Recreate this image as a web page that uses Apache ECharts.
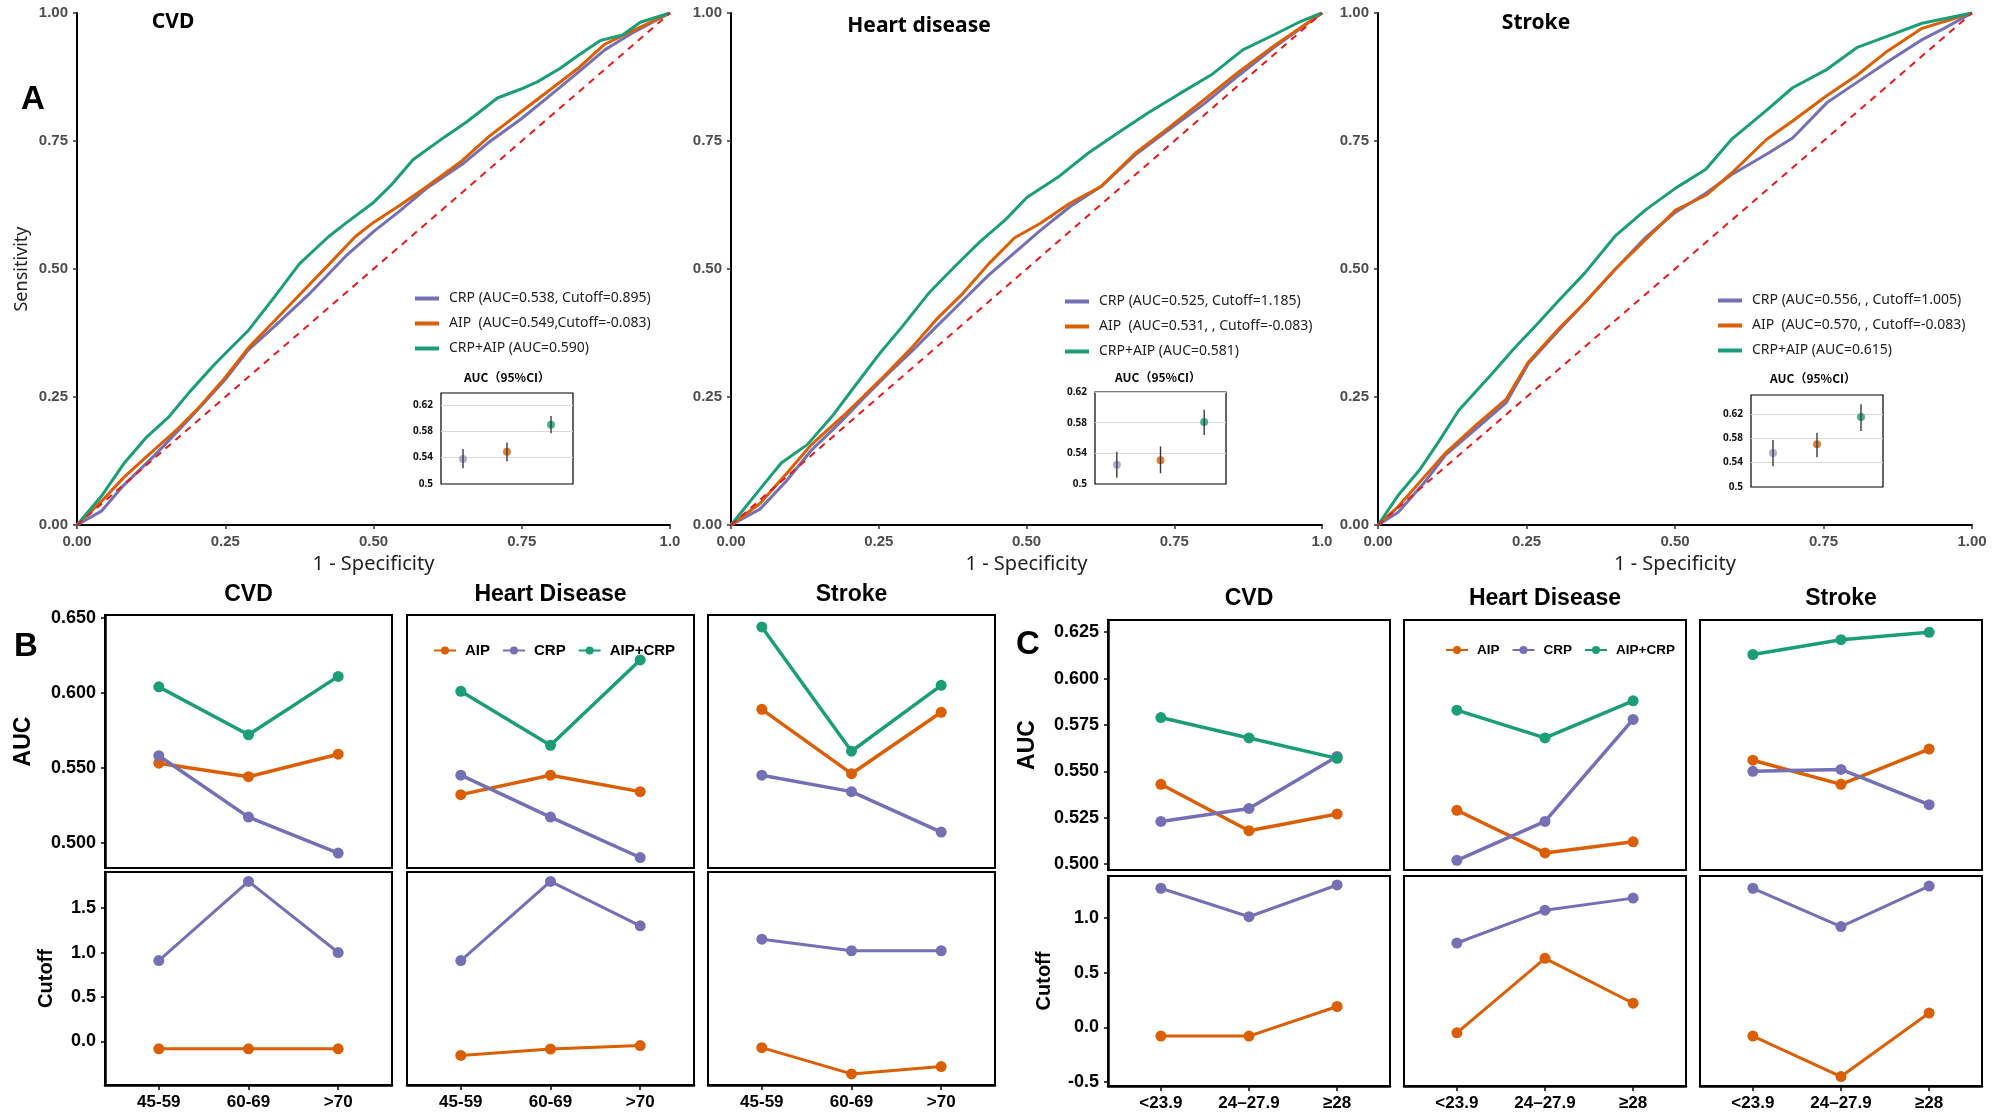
<!DOCTYPE html>
<html>
<head>
<meta charset="utf-8">
<script src="https://cdn.jsdelivr.net/npm/echarts@6/dist/echarts.min.js"></script>
<style>
html, body { margin: 0; padding: 0; background: #fff; }
#chart { width: 1996px; height: 1117px; }
</style>
</head>
<body>
<div id="chart"></div>
<script>
const PURPLE = '#7570b3', ORANGE = '#d95f02', GREEN = '#1b9e77', RED = '#e41a1c';

// ---- A: ROC curves, [1 - specificity, sensitivity]
const rocCvdCrp = [[0,0],[0.041,0.027],[0.079,0.078],[0.131,0.136],[0.19,0.208],[0.25,0.284],[0.289,0.342],[0.334,0.389],[0.394,0.454],[0.454,0.526],[0.5,0.573],[0.544,0.613],[0.589,0.657],[0.649,0.704],[0.694,0.747],[0.75,0.794],[0.8,0.841],[0.845,0.884],[0.89,0.928],[0.935,0.96],[1,1]];
const rocCvdAip = [[0,0],[0.041,0.046],[0.079,0.093],[0.116,0.132],[0.169,0.187],[0.206,0.23],[0.25,0.288],[0.289,0.346],[0.334,0.40],[0.379,0.454],[0.424,0.508],[0.469,0.563],[0.5,0.591],[0.544,0.624],[0.589,0.66],[0.649,0.711],[0.694,0.758],[0.75,0.808],[0.8,0.852],[0.845,0.892],[0.89,0.939],[0.935,0.964],[1,1]];
const rocCvdBoth = [[0,0],[0.041,0.056],[0.079,0.12],[0.116,0.17],[0.154,0.21],[0.19,0.26],[0.229,0.31],[0.25,0.335],[0.289,0.38],[0.334,0.447],[0.375,0.51],[0.424,0.563],[0.454,0.59],[0.5,0.63],[0.53,0.664],[0.567,0.714],[0.62,0.758],[0.657,0.787],[0.709,0.834],[0.75,0.852],[0.777,0.866],[0.815,0.892],[0.845,0.917],[0.882,0.946],[0.92,0.957],[0.95,0.982],[1,1]];

const rocHeartCrp = [[0,0],[0.049,0.031],[0.093,0.085],[0.136,0.146],[0.188,0.204],[0.224,0.247],[0.268,0.298],[0.304,0.337],[0.348,0.388],[0.392,0.438],[0.436,0.488],[0.48,0.532],[0.523,0.575],[0.574,0.622],[0.626,0.661],[0.684,0.723],[0.742,0.773],[0.801,0.823],[0.859,0.878],[0.918,0.932],[1,1]];
const rocHeartAip = [[0,0],[0.049,0.042],[0.093,0.099],[0.136,0.157],[0.188,0.211],[0.224,0.251],[0.268,0.301],[0.304,0.344],[0.348,0.402],[0.392,0.452],[0.436,0.51],[0.48,0.561],[0.523,0.589],[0.574,0.629],[0.626,0.661],[0.684,0.726],[0.742,0.777],[0.801,0.831],[0.859,0.885],[0.918,0.935],[1,1]];
const rocHeartBoth = [[0,0],[0.049,0.07],[0.085,0.121],[0.129,0.157],[0.173,0.215],[0.21,0.272],[0.253,0.337],[0.29,0.388],[0.334,0.452],[0.377,0.503],[0.421,0.553],[0.465,0.597],[0.501,0.64],[0.553,0.679],[0.604,0.726],[0.655,0.766],[0.706,0.805],[0.757,0.841],[0.815,0.881],[0.866,0.928],[0.918,0.957],[0.961,0.982],[1,1]];

const rocStrokeCrp = [[0,0],[0.034,0.025],[0.078,0.083],[0.114,0.137],[0.165,0.188],[0.216,0.239],[0.253,0.315],[0.304,0.38],[0.348,0.434],[0.399,0.499],[0.45,0.561],[0.501,0.611],[0.552,0.648],[0.595,0.684],[0.654,0.724],[0.698,0.756],[0.756,0.825],[0.807,0.865],[0.858,0.905],[0.916,0.948],[0.953,0.97],[1,1]];
const rocStrokeAip = [[0,0],[0.034,0.036],[0.078,0.094],[0.114,0.141],[0.165,0.195],[0.216,0.246],[0.253,0.318],[0.304,0.383],[0.348,0.434],[0.399,0.499],[0.45,0.557],[0.501,0.615],[0.552,0.644],[0.595,0.687],[0.654,0.753],[0.698,0.789],[0.756,0.839],[0.807,0.879],[0.858,0.926],[0.916,0.97],[1,1]];
const rocStrokeBoth = [[0,0],[0.034,0.058],[0.071,0.109],[0.1,0.159],[0.136,0.224],[0.187,0.289],[0.231,0.347],[0.267,0.391],[0.304,0.438],[0.348,0.492],[0.399,0.564],[0.45,0.615],[0.501,0.658],[0.552,0.695],[0.595,0.753],[0.654,0.81],[0.698,0.854],[0.756,0.89],[0.807,0.933],[0.858,0.955],[0.916,0.98],[1,1]];

const rocNamesCvd = ['CRP (AUC=0.538, Cutoff=0.895)', 'AIP  (AUC=0.549,Cutoff=-0.083)', 'CRP+AIP (AUC=0.590)'];
const rocNamesHeart = ['CRP (AUC=0.525, Cutoff=1.185)', 'AIP  (AUC=0.531, , Cutoff=-0.083)', 'CRP+AIP (AUC=0.581)'];
const rocNamesStroke = ['CRP (AUC=0.556, , Cutoff=1.005)', 'AIP  (AUC=0.570, , Cutoff=-0.083)', 'CRP+AIP (AUC=0.615)'];
const rocTitles = ['CVD', 'Heart disease', 'Stroke'];

// inset AUC (95%CI): CRP, AIP, CRP+AIP
const insetModels = ['CRP', 'AIP', 'CRP+AIP'];
const insetAucCvd = [0.538, 0.549, 0.590];
const insetLoCvd = [0.524, 0.534, 0.577];
const insetHiCvd = [0.553, 0.563, 0.603];
const insetAucHeart = [0.525, 0.531, 0.581];
const insetLoHeart = [0.508, 0.514, 0.564];
const insetHiHeart = [0.542, 0.549, 0.597];
const insetAucStroke = [0.556, 0.570, 0.615];
const insetLoStroke = [0.534, 0.549, 0.592];
const insetHiStroke = [0.577, 0.589, 0.636];
const insetTicks = [0.5, 0.54, 0.58, 0.62];
const insetGridLines = [0.54, 0.58, 0.62];

// ---- B: by age group, C: by BMI group (columns: CVD, Heart Disease, Stroke)
const facetTitles = ['CVD', 'Heart Disease', 'Stroke'];
const ageGroups = ['45-59', '60-69', '>70'];
const ageAucAip = [[0.553, 0.544, 0.559], [0.532, 0.545, 0.534], [0.589, 0.546, 0.587]];
const ageAucCrp = [[0.558, 0.517, 0.493], [0.545, 0.517, 0.490], [0.545, 0.534, 0.507]];
const ageAucBoth = [[0.604, 0.572, 0.611], [0.601, 0.565, 0.622], [0.644, 0.561, 0.605]];
const ageCutAip = [[-0.083, -0.083, -0.083], [-0.157, -0.086, -0.047], [-0.07, -0.365, -0.283]];
const ageCutCrp = [[0.91, 1.80, 1.00], [0.91, 1.80, 1.30], [1.15, 1.02, 1.02]];
const ageAucTicks = [0.5, 0.55, 0.6, 0.65];
const ageCutTicks = [0, 0.5, 1, 1.5];

const bmiGroups = ['<23.9', '24\u201327.9', '\u226528'];
const bmiAucAip = [[0.543, 0.518, 0.527], [0.529, 0.506, 0.512], [0.556, 0.543, 0.562]];
const bmiAucCrp = [[0.523, 0.530, 0.558], [0.502, 0.523, 0.578], [0.550, 0.551, 0.532]];
const bmiAucBoth = [[0.579, 0.568, 0.557], [0.583, 0.568, 0.588], [0.613, 0.621, 0.625]];
const bmiCutAip = [[-0.08, -0.08, 0.19], [-0.05, 0.63, 0.22], [-0.08, -0.45, 0.13]];
const bmiCutCrp = [[1.27, 1.01, 1.30], [0.77, 1.07, 1.18], [1.27, 0.92, 1.29]];
const bmiAucTicks = [0.5, 0.525, 0.55, 0.575, 0.6, 0.625];
const bmiCutTicks = [-0.5, 0, 0.5, 1];

const seriesNames = ['AIP', 'CRP', 'AIP+CRP'];

const grids = [], xAxes = [], yAxes = [], series = [], legends = [], graphics = [];
const SANS = 'Liberation Sans, Arial, sans-serif';
const NOTO = 'Noto Sans, sans-serif';

function text(x, y, str, font, extra) {
    graphics.push(Object.assign({
        type: 'text', x: x, y: y, silent: true,
        style: {text: str, font: font, fill: '#000', align: 'center', verticalAlign: 'middle'}
    }, extra || {}));
}

//A 面板：ROC 曲线
const rocPanels = [
    {left: 77, width: 593, curves: [rocCvdCrp, rocCvdAip, rocCvdBoth], names: rocNamesCvd, lastX: '1.0', yName: 'Sensitivity',
        title: [173, 22], legend: [410, 285], inset: {left: 441, top: 393, width: 132, height: 91, max: 0.638, title: [507, 377],
            auc: insetAucCvd, lo: insetLoCvd, hi: insetHiCvd}},
    {left: 731, width: 591, curves: [rocHeartCrp, rocHeartAip, rocHeartBoth], names: rocNamesHeart, lastX: '1.0', yName: '',
        title: [919, 26], legend: [1060, 288], inset: {left: 1095, top: 392, width: 131, height: 92, max: 0.62, title: [1158, 377],
            auc: insetAucHeart, lo: insetLoHeart, hi: insetHiHeart}},
    {left: 1378, width: 594, curves: [rocStrokeCrp, rocStrokeAip, rocStrokeBoth], names: rocNamesStroke, lastX: '1.00', yName: '',
        title: [1536, 23], legend: [1713, 287], inset: {left: 1751, top: 395, width: 132, height: 92, max: 0.651, title: [1813, 378],
            auc: insetAucStroke, lo: insetLoStroke, hi: insetHiStroke}}
];
const rocColors = [PURPLE, ORANGE, GREEN];
const insetColors = ['#9e9ac8', ORANGE, GREEN];
const rocLabel = {color: '#4d4d4d', fontWeight: 'bold', fontSize: 15, fontFamily: SANS};

rocPanels.forEach(function (p, n) {
    const gi = grids.length;
    grids.push({left: p.left, top: 13, width: p.width, height: 512});
    xAxes.push({
        gridIndex: gi, type: 'value', min: 0, max: 1, interval: 0.25,
        name: '1 - Specificity', nameLocation: 'middle', nameGap: 29,
        nameTextStyle: {fontSize: 20, color: '#222', fontFamily: NOTO},
        axisLine: {onZero: false, lineStyle: {color: '#000', width: 2}},
        axisTick: {length: 4, lineStyle: {color: '#333', width: 1.5}},
        axisLabel: Object.assign({margin: 9, formatter: function (v) { return v === 1 ? p.lastX : v.toFixed(2); }}, rocLabel),
        splitLine: {show: false}
    });
    yAxes.push({
        gridIndex: gi, type: 'value', min: 0, max: 1, interval: 0.25,
        name: p.yName, nameLocation: 'middle', nameGap: 46,
        nameTextStyle: {fontSize: 18, color: '#222', fontFamily: NOTO},
        axisLine: {show: true, onZero: false, lineStyle: {color: '#000', width: 2}},
        axisTick: {show: true, length: 4, lineStyle: {color: '#333', width: 1.5}},
        axisLabel: Object.assign({margin: 9, formatter: function (v) { return v.toFixed(2); }}, rocLabel),
        splitLine: {show: false}
    });
    p.curves.forEach(function (c, k) {
        series.push({
            type: 'line', name: p.names[k], xAxisIndex: gi, yAxisIndex: gi, data: c,
            symbol: 'none', color: rocColors[k], lineStyle: {width: 3, color: rocColors[k]}
        });
    });
    series.push({
        type: 'line', name: 'ref', xAxisIndex: gi, yAxisIndex: gi, data: [[0, 0], [1, 1]],
        symbol: 'none', lineStyle: {width: 2, color: RED, type: [7, 6]}
    });
    legends.push({
        data: p.names, orient: 'vertical', left: p.legend[0], top: p.legend[1],
        icon: 'rect', itemWidth: 24, itemHeight: 4, itemGap: 8,
        textStyle: {fontSize: 14, color: '#222', fontFamily: NOTO, lineHeight: 17, padding: [0, 0, 0, 5]}
    });
    text(p.title[0], p.title[1], rocTitles[n], 'bold 21px ' + NOTO);

    // 小图：AUC (95%CI)
    const q = p.inset;
    const ii = grids.length;
    grids.push({left: q.left, top: q.top, width: q.width, height: q.height, show: true,
        borderColor: '#000', borderWidth: 1.2, backgroundColor: '#fff', z: 5});
    xAxes.push({gridIndex: ii, type: 'category', data: insetModels, boundaryGap: true,
        axisLine: {show: false}, axisTick: {show: false}, axisLabel: {show: false}, z: 5});
    yAxes.push({gridIndex: ii, type: 'value', min: 0.5, max: q.max,
        axisLine: {show: false}, axisTick: {show: false}, splitLine: {show: false},
        axisLabel: {customValues: insetTicks, margin: 8, fontSize: 10, fontWeight: 'bold', color: '#111', fontFamily: NOTO,
            formatter: function (v) { return String(+v.toFixed(2)); }}, z: 5});
    series.push({
        type: 'scatter', name: 'inset', xAxisIndex: ii, yAxisIndex: ii, z: 6,
        data: q.auc.map(function (v, i) { return [i, v]; }), symbolSize: 8,
        itemStyle: {color: function (d) { return insetColors[d.dataIndex]; }},
        markLine: {silent: true, symbol: 'none', label: {show: false}, animation: false,
            lineStyle: {color: '#d9d9d9', width: 1, type: 'solid'},
            data: insetGridLines.map(function (v) { return {yAxis: v}; })}
    });
    series.push({
        type: 'custom', name: 'ci', xAxisIndex: ii, yAxisIndex: ii, z: 7,
        data: q.auc.map(function (v, i) { return [i, v, q.lo[i], q.hi[i]]; }),
        encode: {x: 0, y: [1, 2, 3]},
        renderItem: function (params, api) {
            const i = api.value(0);
            const a = api.coord([i, api.value(2)]);
            const b = api.coord([i, api.value(3)]);
            return {type: 'line', shape: {x1: a[0], y1: a[1], x2: b[0], y2: b[1]}, style: {stroke: '#3a3a3a', lineWidth: 1.4}};
        }
    });
    text(q.title[0], q.title[1], 'AUC\uff0895%CI\uff09', 'bold 12px Noto Sans CJK SC, sans-serif', {z: 10});
});

//B / C 面板：分面折线
const facets = [
    {lefts: [105, 407, 708], width: 287, top: 615, topH: 253, botTop: 872, botH: 213,
        aucMin: 0.483, aucMax: 0.652, cutMin: -0.49, cutMax: 1.906, aucTicks: ageAucTicks, cutTicks: ageCutTicks, aucDigits: 3,
        cats: ageGroups, aip: ageAucAip, crp: ageAucCrp, both: ageAucBoth, cutAip: ageCutAip, cutCrp: ageCutCrp,
        aucGap: 70, cutGap: 49, titleY: 595, legend: {left: 428, top: 638, size: 15}},
    {lefts: [1108, 1404, 1700], width: 282, top: 620, topH: 250, botTop: 876, botH: 210,
        aucMin: 0.4968, aucMax: 0.6316, cutMin: -0.536, cutMax: 1.382, aucTicks: bmiAucTicks, cutTicks: bmiCutTicks, aucDigits: 3,
        cats: bmiGroups, aip: bmiAucAip, crp: bmiAucCrp, both: bmiAucBoth, cutAip: bmiCutAip, cutCrp: bmiCutCrp,
        aucGap: 69, cutGap: 54, titleY: 599, legend: {left: 1440, top: 638, size: 13.5}}
];
const facetLabel = {fontSize: 18, fontWeight: 'bold', color: '#000', fontFamily: SANS};
const facetColors = [ORANGE, PURPLE, GREEN];

function facetSeries(gi, rows, c, width, size) {
    rows.forEach(function (vals, k) {
        series.push({
            type: 'line', name: seriesNames[k], xAxisIndex: gi, yAxisIndex: gi,
            data: vals[c].map(function (v, i) { return [i + 1, v]; }),
            symbol: 'circle', symbolSize: size, color: facetColors[k],
            lineStyle: {width: width, color: facetColors[k]}, itemStyle: {color: facetColors[k]}
        });
    });
}

facets.forEach(function (f) {
    f.lefts.forEach(function (left, c) {
        const first = c === 0;
        // 上：AUC
        const gt = grids.length;
        grids.push({left: left, top: f.top, width: f.width, height: f.topH, show: true, borderColor: '#000', borderWidth: 2});
        xAxes.push({gridIndex: gt, type: 'value', min: 0.4, max: 3.6, show: false});
        yAxes.push({gridIndex: gt, type: 'value', min: f.aucMin, max: f.aucMax,
            name: first ? 'AUC' : '', nameLocation: 'middle', nameGap: f.aucGap,
            nameTextStyle: {fontSize: 23, fontWeight: 'bold', color: '#000', fontFamily: SANS},
            axisLine: {show: first, onZero: false, lineStyle: {color: '#000', width: 2.5}},
            axisTick: {show: first, customValues: f.aucTicks, length: 4, lineStyle: {color: '#000', width: 1.5}},
            axisLabel: Object.assign({show: first, customValues: f.aucTicks, margin: 9,
                formatter: function (v) { return v.toFixed(f.aucDigits); }}, facetLabel),
            splitLine: {show: false}});
        facetSeries(gt, [f.aip, f.crp, f.both], c, 3.5, 11);

        // 下：Cutoff
        const gb = grids.length;
        grids.push({left: left, top: f.botTop, width: f.width, height: f.botH, show: true, borderColor: '#000', borderWidth: 2});
        xAxes.push({gridIndex: gb, type: 'value', min: 0.4, max: 3.6,
            axisLine: {show: true, onZero: false, lineStyle: {color: '#000', width: 2.5}},
            axisTick: {show: true, customValues: [1, 2, 3], length: 5, lineStyle: {color: '#000', width: 1.5}},
            axisLabel: Object.assign({customValues: [1, 2, 3], margin: 9,
                formatter: function (v) { return f.cats[Math.round(v) - 1]; }}, facetLabel, {fontSize: 17}),
            splitLine: {show: false}});
        yAxes.push({gridIndex: gb, type: 'value', min: f.cutMin, max: f.cutMax,
            name: first ? 'Cutoff' : '', nameLocation: 'middle', nameGap: f.cutGap,
            nameTextStyle: {fontSize: 20, fontWeight: 'bold', color: '#000', fontFamily: SANS},
            axisLine: {show: first, onZero: false, lineStyle: {color: '#000', width: 2.5}},
            axisTick: {show: first, customValues: f.cutTicks, length: 4, lineStyle: {color: '#000', width: 1.5}},
            axisLabel: Object.assign({show: first, customValues: f.cutTicks, margin: 9,
                formatter: function (v) { return v.toFixed(1); }}, facetLabel),
            splitLine: {show: false}});
        facetSeries(gb, [f.cutAip, f.cutCrp], c, 3, 11);

        text(left + f.width / 2, f.titleY, facetTitles[c], 'bold 23px ' + SANS);
    });
    legends.push({
        data: seriesNames, orient: 'horizontal', left: f.legend.left, top: f.legend.top,
        itemWidth: 22, itemHeight: 10, itemGap: 12,
        textStyle: {fontSize: f.legend.size, fontWeight: 'bold', color: '#000', fontFamily: SANS, padding: [0, 0, 0, 4]}
    });
});

text(33, 100, 'A', 'bold 33px ' + SANS);
text(26, 647, 'B', 'bold 33px ' + SANS);
text(1028, 645, 'C', 'bold 33px ' + SANS);

const chart = echarts.init(document.getElementById('chart'));
chart.setOption({
    animation: false,
    backgroundColor: '#fff',
    grid: grids,
    xAxis: xAxes,
    yAxis: yAxes,
    legend: legends,
    series: series,
    graphic: graphics
});
</script>
</body>
</html>
